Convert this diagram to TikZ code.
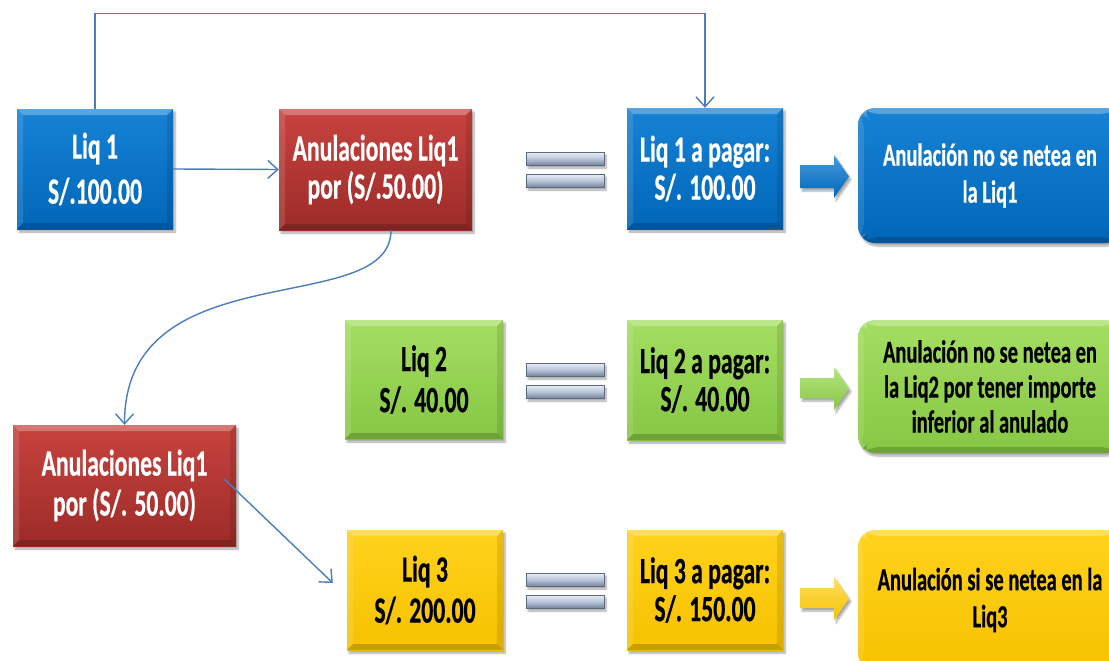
\documentclass[tikz,border=0pt]{standalone}
\usepackage{fontspec}
\setmainfont{Carlito}[FakeStretch=0.64,BoldFeatures={FakeBold=0.5}]
\usetikzlibrary{arrows.meta,calc,shadows.blur}

\definecolor{bluetop}{HTML}{1782D4}
\definecolor{bluebot}{HTML}{0066B8}
\definecolor{redtop}{HTML}{C8433F}
\definecolor{redbot}{HTML}{9C2B28}
\definecolor{greentop}{HTML}{A4DE62}
\definecolor{greenbot}{HTML}{86C744}
\definecolor{yeltop}{HTML}{FFD21C}
\definecolor{yelbot}{HTML}{F6C200}
\definecolor{link}{HTML}{4A7EBB}
\definecolor{bartop}{HTML}{E8EEF6}
\definecolor{barmid}{HTML}{BAC6DA}
\definecolor{barbot}{HTML}{76869F}

\tikzset{
  softshadow/.style={blur shadow={shadow xshift=2pt,shadow yshift=-3pt,shadow blur steps=6,shadow opacity=35}},
  % light top/left and dark bottom/right edges give the cards a raised look
  bevel/.style={path picture={
    \fill[white,opacity=0.28] (path picture bounding box.north west) -- (path picture bounding box.north east)
      -- ++(-6,6) -- ($(path picture bounding box.north west)+(6,6)$) -- cycle;
    \fill[white,opacity=0.12] (path picture bounding box.north west) -- ++(6,6)
      -- ($(path picture bounding box.south west)+(6,-6)$) -- (path picture bounding box.south west) -- cycle;
    \fill[black,opacity=0.18] (path picture bounding box.south west) -- (path picture bounding box.south east)
      -- ++(-6,-6) -- ($(path picture bounding box.south west)+(6,-6)$) -- cycle;
    \fill[black,opacity=0.10] (path picture bounding box.north east) -- ++(-6,6)
      -- ($(path picture bounding box.south east)+(-6,-6)$) -- (path picture bounding box.south east) -- cycle;
  }},
  card/.style={draw=none,align=center,inner sep=0pt,softshadow,bevel,font=\bfseries},
  bluecard/.style={card,top color=bluetop,bottom color=bluebot,text=white},
  redcard/.style={card,top color=redtop,bottom color=redbot,text=white},
  greencard/.style={card,top color=greentop,bottom color=greenbot,text=black},
  yelcard/.style={card,top color=yeltop,bottom color=yelbot,text=black},
  bigtxt/.style={font=\bfseries\fontsize{37}{#1}\selectfont},
  smalltxt/.style={font=\bfseries\fontsize{32}{#1}\selectfont},
  result/.style={rounded corners=17pt},
  eqbar/.style={draw=barbot!80!black,line width=0.5pt,top color=bartop,bottom color=barbot,middle color=barmid,softshadow},
  link/.style={draw=link,line width=1.4pt,-{Straight Barb[length=10pt,width=18pt]}},
}

\begin{document}
\begin{tikzpicture}[x=1pt,y=-1pt]
\useasboundingbox (0,0) rectangle (1109,661);
\clip (0,0) rectangle (1109,661);

% ---- boxes ----
\node[bluecard,bigtxt=45,minimum width=156pt,minimum height=120pt] (liq1) at (95,169) {Liq 1\\S/.100.00};
\node[redcard,bigtxt=38,minimum width=193pt,minimum height=121pt] (anu1) at (375.5,169.5) {Anulaciones Liq1\\por (S/.50.00)};
\node[bluecard,bigtxt=38,minimum width=156pt,minimum height=121pt] (pag1) at (705,168.5) {Liq 1 a pagar:\\S/. 100.00};
\node[bluecard,result,smalltxt=37,minimum width=264pt,minimum height=135pt] (res1) at (990,175.5) {Anulación no se netea en\\la Liq1};

\node[greencard,bigtxt=41,minimum width=158pt,minimum height=119pt] (liq2) at (424,379.5) {Liq 2\\S/. 40.00};
\node[greencard,bigtxt=38,minimum width=156pt,minimum height=120pt] (pag2) at (705,380) {Liq 2 a pagar:\\S/. 40.00};
\node[greencard,result,smalltxt=35,minimum width=264pt,minimum height=133pt] (res2) at (990,386.5) {Anulación no se netea en\\la Liq2 por tener importe\\inferior al anulado};

\node[redcard,bigtxt=40,minimum width=223pt,minimum height=121pt] (anu2) at (124.5,485.5) {Anulaciones Liq1\\por (S/. 50.00)};
\node[yelcard,bigtxt=41,minimum width=156pt,minimum height=120pt] (liq3) at (425,590) {Liq 3\\S/. 200.00};
\node[yelcard,bigtxt=38,minimum width=156pt,minimum height=120pt] (pag3) at (705,590) {Liq 3 a pagar:\\S/. 150.00};
\node[yelcard,result,smalltxt=37,minimum width=264pt,minimum height=140pt] (res3) at (990,600) {Anulación si se netea en la\\Liq3};

% ---- equals signs ----
\foreach \y in {152,363,573} {
  \path[eqbar] (526,\y) rectangle (604,\y+13);
  \path[eqbar] (526,\y+22) rectangle (604,\y+35);
}

% ---- block arrows ----
\path[softshadow,top color=bluetop!80!white,bottom color=bluebot]
  (800,165) -- (834,165) -- (834,155) -- (849,176.5) -- (834,198) -- (834,188) -- (800,188) -- cycle;
\path[softshadow,top color=greentop!80!white,bottom color=greenbot]
  (800,378) -- (834,378) -- (834,367) -- (849,388.5) -- (834,410) -- (834,398) -- (800,398) -- cycle;
\path[softshadow,top color=yeltop!70!white,bottom color=yelbot]
  (800,588) -- (834,588) -- (834,577) -- (849,598.5) -- (834,620) -- (834,608) -- (800,608) -- cycle;

% ---- connectors ----
\draw[link] (liq1.north) -- ++(0,-95) -| (pag1.north);
\draw[link] (liq1.east) -- (anu1.west);
\draw[link] ($(anu1.south)+(15.5,0)$) .. controls ($(anu1.south)+(15.5,90)$) and ($(anu2.north)+(0,-175)$) .. (anu2.north);
\coordinate (liq3in) at ($(liq3.west)+(-14,-7)$);
\draw[link] ($(anu2.east)+(-12,-6.5)$) -- (liq3in);
\end{tikzpicture}
\end{document}
